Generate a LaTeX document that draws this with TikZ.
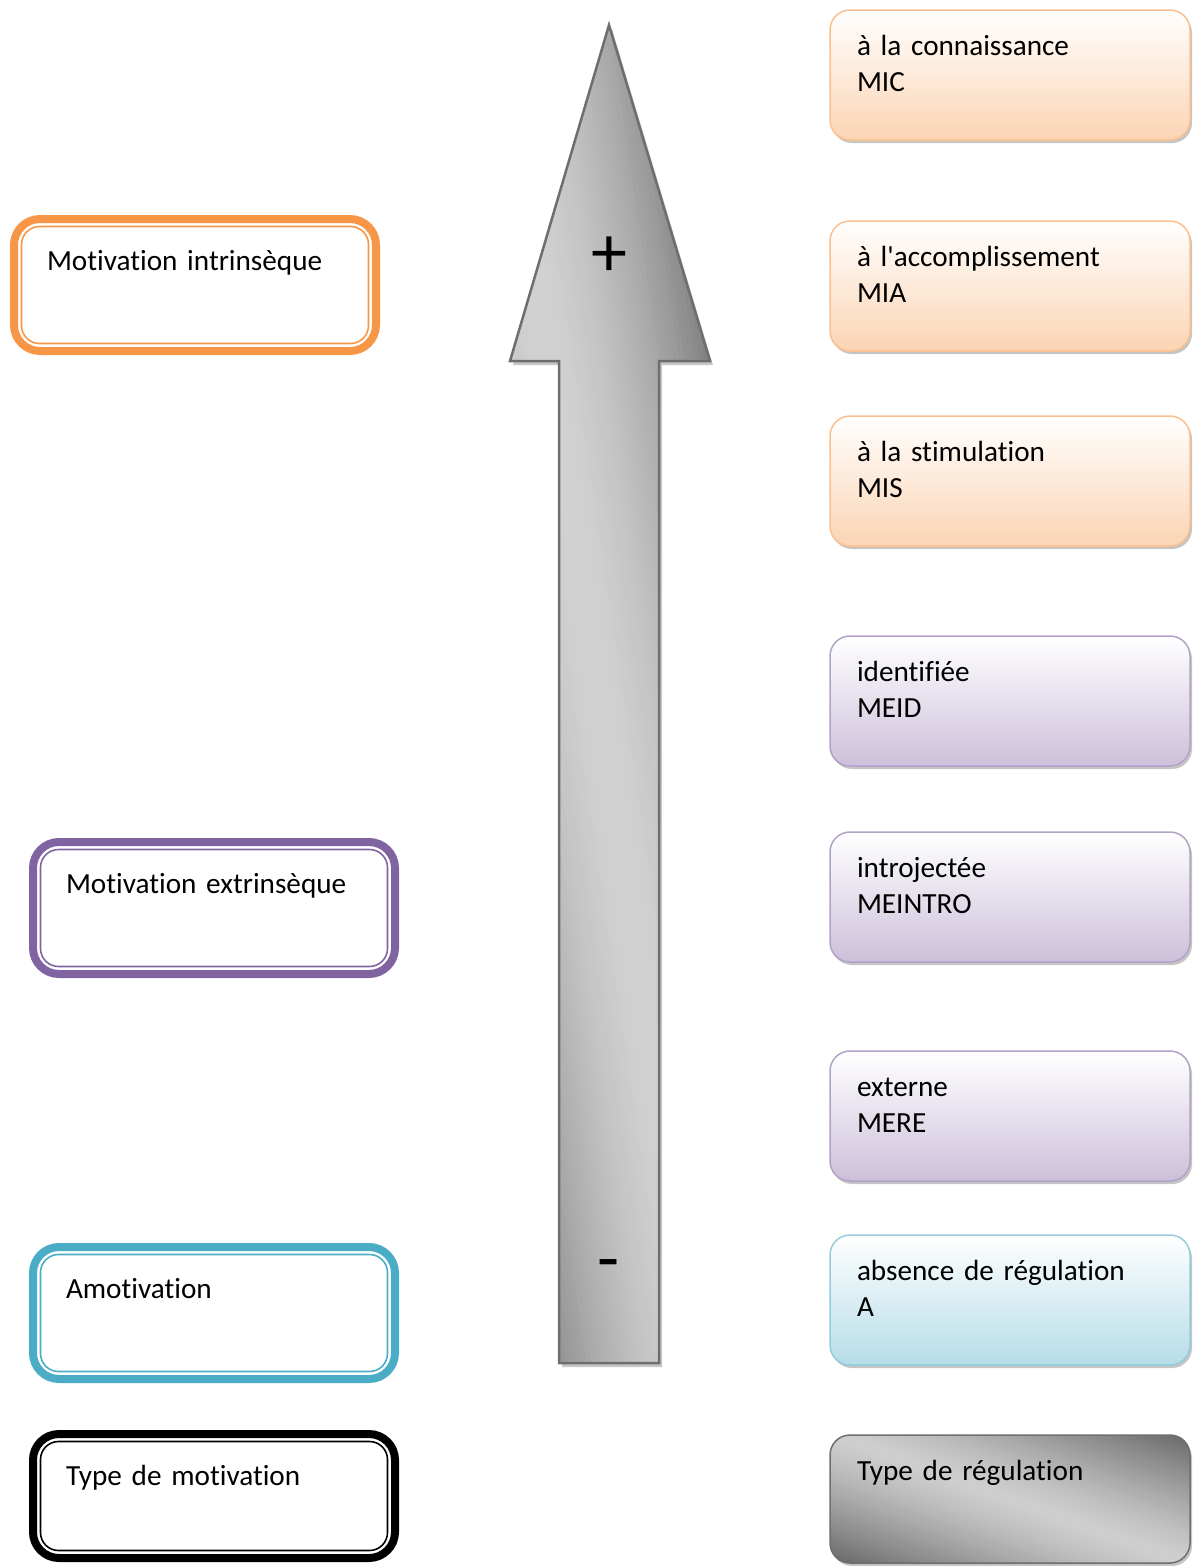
\documentclass[tikz,border=0pt]{standalone}
\usepackage{fontspec}
\setmainfont{Carlito}[Ligatures=NoCommon]
\usepackage{tikz}
\usetikzlibrary{positioning,shadows}

\definecolor{miorange}{HTML}{F79646}
\definecolor{mepurple}{HTML}{8064A2}
\definecolor{amblue}{HTML}{4BACC6}
\definecolor{orline}{HTML}{FAC090}
\definecolor{orfill}{HTML}{FBD4B4}
\definecolor{puline}{HTML}{B3A2C7}
\definecolor{pufill}{HTML}{CCC0DA}
\definecolor{blline}{HTML}{93CDDD}
\definecolor{blfill}{HTML}{B6DDE8}
\definecolor{arrline}{HTML}{6E6E6E}
\newcommand\boxfont{\fontsize{29.2}{36.5}\selectfont}
\newcommand\signfont{\fontsize{72}{80}\selectfont}
\newcommand\arrowpath{(609,25) -- (710,361) -- (659,361) -- (659,1363) -- (559,1363) -- (559,361) -- (510,361) -- cycle}

\tikzset{
	motbox/.style={draw=#1, line width=8pt, rounded corners=26pt, anchor=north west,
		outer sep=0pt, inner xsep=33pt, inner ysep=0pt, text width=296pt, align=left,
		text height=51pt, text depth=81pt, font=\boxfont},
	motinner/.style={draw=#1, line width=1.6pt, rounded corners=18pt},
	regbase/.style={line width=1.5pt, rounded corners=20pt, anchor=north west,
		outer sep=0pt, inner xsep=27pt, inner ysep=0pt, text width=306pt, align=left,
		text height=45pt, text depth=85pt, font=\boxfont},
	regbox/.style={regbase, draw=#1line, top color=white, bottom color=#1fill,
		drop shadow={shadow xshift=2pt, shadow yshift=-3pt, fill=black!45, opacity=.5}},
}

\begin{document}
\begin{tikzpicture}[x=1pt, y=-1pt]
	\useasboundingbox (0,0) rectangle (1203,1566);
	% the big arrow
	\fill[black!22, shift={(3,4)}] \arrowpath;
	\begin{scope}
		\clip \arrowpath;
		\begin{scope}[shift={(623,862)}, rotate=8.5]
			\foreach \i in {-40,...,39} {
				\pgfmathsetmacro\lum{0.82-0.33*min(abs(\i*5+2.5)/165,1)^1.6}
				\definecolor{stripcol}{gray}{\lum}
				\fill[stripcol] (\i*5,-900) rectangle (\i*5+5.6,900);
			}
		\end{scope}
	\end{scope}
	\draw[arrline, line width=2.5pt] \arrowpath;
	\node[font=\signfont, anchor=base] (plus) at (609,276) {+};
	\node[font=\signfont, anchor=base] (minus) at (609,1282) {-};

	% types of motivation
	\node[motbox=miorange] (mi) at (14,219) {Motivation intrinsèque};
	\draw[motinner=miorange] ([shift={(7.5,7.5)}]mi.north west) rectangle ([shift={(-7.5,-7.5)}]mi.south east);
	\node[motbox=mepurple] (me) at (33,842) {Motivation extrinsèque};
	\draw[motinner=mepurple] ([shift={(7.5,7.5)}]me.north west) rectangle ([shift={(-7.5,-7.5)}]me.south east);
	\node[motbox=amblue] (am) at (33,1247) {Amotivation};
	\draw[motinner=amblue] ([shift={(7.5,7.5)}]am.north west) rectangle ([shift={(-7.5,-7.5)}]am.south east);
	\node[motbox=black, text depth=73pt] (typmot) at (33,1434) {Type de motivation};
	\draw[motinner=black] ([shift={(7.5,7.5)}]typmot.north west) rectangle ([shift={(-7.5,-7.5)}]typmot.south east);

	% types of regulation
	\node[regbox=or] (mic) at (830,10) {à la connaissance\\MIC};
	\node[regbox=or] (mia) at (830,221) {à l\textquotesingle accomplissement\\MIA};
	\node[regbox=or] (mis) at (830,416) {à la stimulation\\MIS};
	\node[regbox=pu] (meid) at (830,636) {identifiée\\MEID};
	\node[regbox=pu] (meintro) at (830,832) {introjectée\\MEINTRO};
	\node[regbox=pu] (mere) at (830,1051) {externe\\MERE};
	\node[regbox=bl] (amot) at (830,1235) {absence de régulation\\A};

	\fill[black!45, opacity=.5, rounded corners=20pt] (832,1438) rectangle (1192,1566);
	\begin{scope}
		\clip[rounded corners=20pt] (830,1435) rectangle (1190,1563);
		\begin{scope}[shift={(1010,1499)}, rotate=-20]
			\foreach \j in {-36,...,35} {
				\pgfmathsetmacro\lum{0.81-0.42*min(abs(\j*4+2)/125,1)^1.3}
				\definecolor{stripcol}{gray}{\lum}
				\fill[stripcol] (-300,\j*4) rectangle (300,\j*4+4.6);
			}
		\end{scope}
	\end{scope}
	\node[regbase, draw=arrline, text depth=83pt] (typreg) at (830,1435) {Type de régulation};
\end{tikzpicture}
\end{document}
